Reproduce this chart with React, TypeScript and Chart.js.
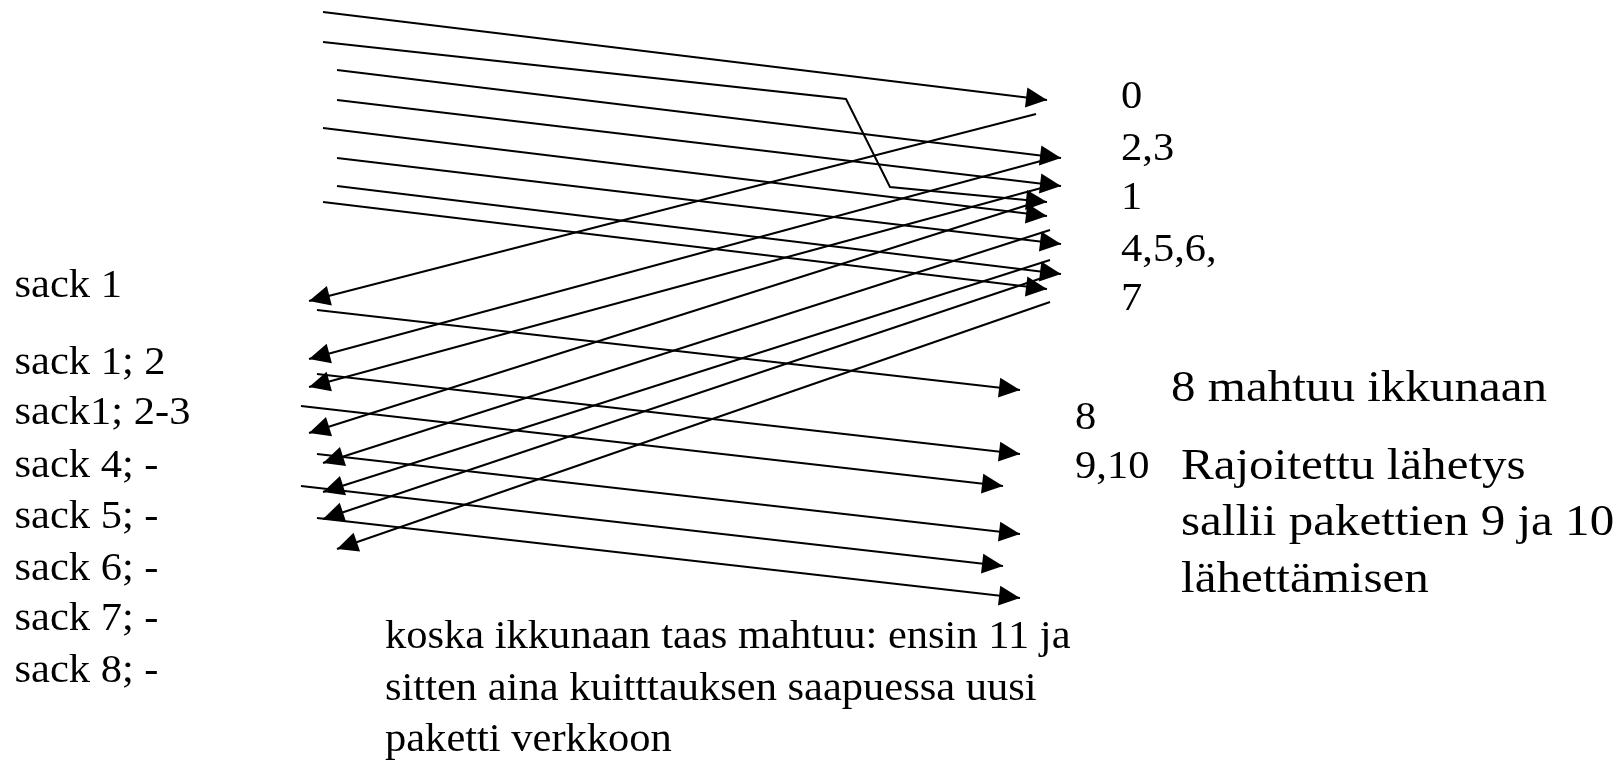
import React, { useEffect, useRef } from "react";
import { Chart, registerables } from "chart.js";

Chart.register(...registerables);

const W = 1622;
const H = 761;

// Sender -> receiver, first window (packets 0..7). Points as [x, y] in diagram units.
const pkt0 = [[323, 12], [1047, 100]];
const pkt1 = [[323, 42], [846, 99], [890, 187], [1047, 202]];
const pkt2 = [[337, 70], [1061, 158]];
const pkt3 = [[337, 100], [1061, 186]];
const pkt4 = [[323, 128], [1047, 216]];
const pkt5 = [[337, 158], [1061, 244]];
const pkt6 = [[337, 186], [1061, 274]];
const pkt7 = [[323, 202], [1047, 289]];

// Receiver -> sender acknowledgements
const ack0 = [[1036, 114], [309, 301]];
const ack1 = [[1052, 158], [309, 359]];
const ack2 = [[1045, 187], [309, 387]];
const ack3 = [[1037, 202], [309, 433]];
const ack4 = [[1050, 230], [323, 463]];
const ack5 = [[1050, 260], [323, 492]];
const ack6 = [[1045, 277], [323, 519]];
const ack7 = [[1050, 302], [337, 549]];

// Second round of packets (8 ...)
const pkt8 = [[317, 310], [1020, 390]];
const pkt9 = [[317, 374], [1020, 454]];
const pkt10 = [[301, 406], [1003, 486]];
const pkt11 = [[317, 454], [1020, 534]];
const pkt12 = [[301, 486], [1003, 566]];
const pkt13 = [[317, 518], [1020, 598]];

const arrows = [
  pkt0, pkt1, pkt2, pkt3, pkt4, pkt5, pkt6, pkt7,
  ack0, ack1, ack2, ack3, ack4, ack5, ack6, ack7,
  pkt8, pkt9, pkt10, pkt11, pkt12, pkt13,
];

// Text labels
const sackLabels = ["sack 1", "sack 1; 2", "sack1; 2-3", "sack 4; -", "sack 5; -", "sack 6; -", "sack 7; -", "sack 8; -"];
const sackX = 14.5;
const sackY = [297, 374, 424, 477, 528, 580, 630, 682];

const recvLabels = ["0", "2,3", "1", "4,5,6,", "7"];
const recvX = 1121;
const recvY = [108, 160, 209, 261, 310];

const recv2Labels = ["8", "9,10"];
const recv2X = 1075;
const recv2Y = [429, 478];

const noteTop = "8 mahtuu ikkunaan";
const noteTopX = 1171;
const noteTopY = 401;

const noteLines = ["Rajoitettu lähetys", "sallii pakettien 9 ja 10", "lähettämisen"];
const noteX = 1181;
const noteY = [479, 535, 592];

const bottomLines = [
  "koska ikkunaan taas mahtuu: ensin 11 ja",
  "sitten aina kuitttauksen saapuessa uusi",
  "paketti verkkoon",
];
const bottomX = 385;
const bottomY = [648, 700, 751];

const FONT = "'Liberation Serif', 'Times New Roman', serif";
const SMALL = 39;
const BIG = 45;
const STRETCH = 1.09;

const arrowHeadPlugin = {
  id: "arrowHeads",
  afterDatasetsDraw(chart: any) {
    const ctx = chart.ctx;
    ctx.save();
    ctx.fillStyle = "#000";
    chart.data.datasets.forEach((_ds: any, i: number) => {
      const meta = chart.getDatasetMeta(i);
      const pts = meta.data;
      if (pts.length < 2) return;
      const a = pts[pts.length - 2];
      const b = pts[pts.length - 1];
      const ang = Math.atan2(b.y - a.y, b.x - a.x);
      const len = 21;
      const hw = 10;
      const bx = b.x - len * Math.cos(ang);
      const by = b.y - len * Math.sin(ang);
      const px = -Math.sin(ang);
      const py = Math.cos(ang);
      ctx.beginPath();
      ctx.moveTo(b.x, b.y);
      ctx.lineTo(bx + hw * px, by + hw * py);
      ctx.lineTo(bx - hw * px, by - hw * py);
      ctx.closePath();
      ctx.fill();
    });
    ctx.restore();
  },
};

const textPlugin = {
  id: "texts",
  afterDraw(chart: any) {
    const ctx = chart.ctx;
    const xs = chart.scales.x;
    const ys = chart.scales.y;
    const put = (t: string, x: number, y: number, size: number) => {
      ctx.save();
      ctx.font = `${size}px ${FONT}`;
      ctx.fillStyle = "#000";
      ctx.textBaseline = "alphabetic";
      ctx.textAlign = "left";
      ctx.translate(xs.getPixelForValue(x), ys.getPixelForValue(y));
      ctx.scale(STRETCH, 1);
      ctx.fillText(t, 0, 0);
      ctx.restore();
    };
    sackLabels.forEach((t, i) => put(t, sackX, sackY[i], SMALL));
    recvLabels.forEach((t, i) => put(t, recvX, recvY[i], SMALL));
    recv2Labels.forEach((t, i) => put(t, recv2X, recv2Y[i], SMALL));
    put(noteTop, noteTopX, noteTopY, BIG);
    noteLines.forEach((t, i) => put(t, noteX, noteY[i], BIG));
    bottomLines.forEach((t, i) => put(t, bottomX, bottomY[i], SMALL));
  },
};

export default function App() {
  const ref = useRef<HTMLCanvasElement | null>(null);
  useEffect(() => {
    if (!ref.current) return;
    const chart = new Chart(ref.current, {
      type: "scatter",
      data: {
        datasets: arrows.map((seg) => ({
          data: seg.map(([x, y]) => ({ x, y })),
          showLine: true,
          borderColor: "#000",
          borderWidth: 2,
          pointRadius: 0,
          fill: false,
          tension: 0,
        })),
      },
      options: {
        responsive: false,
        animation: false,
        devicePixelRatio: 1,
        layout: { padding: 0 },
        events: [],
        scales: {
          x: { type: "linear", min: 0, max: W, display: false },
          y: { type: "linear", min: 0, max: H, reverse: true, display: false },
        },
        plugins: {
          legend: { display: false },
          tooltip: { enabled: false },
        },
      },
      plugins: [arrowHeadPlugin, textPlugin],
    });
    return () => chart.destroy();
  }, []);
  return (
    <div style={{ position: "fixed", left: 0, top: 0, width: W, height: H, background: "#fff" }}>
      <canvas ref={ref} width={W} height={H} style={{ display: "block" }} />
    </div>
  );
}
